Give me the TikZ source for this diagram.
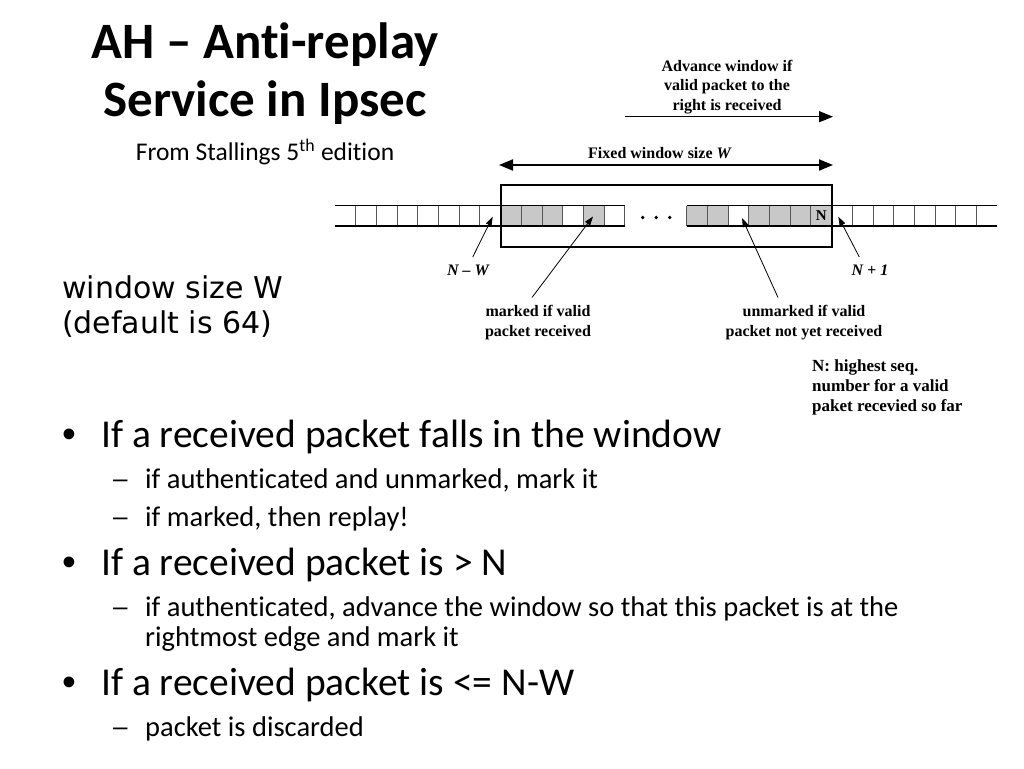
\documentclass[tikz,border=0pt]{standalone}
\usepackage{fontspec}
\setmainfont[Ligatures={NoCommon}]{Carlito}
\newfontfamily\tms{Liberation Serif}
\newfontfamily\dvs{DejaVu Sans}
\newfontfamily\ars{Liberation Sans}
\usetikzlibrary{arrows.meta}
\definecolor{cellgray}{HTML}{C8C8C8}
\definecolor{celledge}{HTML}{555555}
\begin{document}
\begin{tikzpicture}[x=1pt,y=-1pt,
  ttl/.style={font=\fontsize{51}{55}\selectfont\bfseries, anchor=base, inner sep=0pt},
  subttl/.style={font=\fontsize{25.5}{30}\selectfont, anchor=base, inner sep=0pt},
  side/.style={font=\dvs\fontsize{30}{35}\selectfont, anchor=base west, inner sep=0pt},
  lvla/.style={font=\fontsize{39.5}{44}\selectfont, anchor=base west, inner sep=0pt},
  bul/.style={font=\ars\fontsize{39.5}{44}\selectfont, anchor=base west, inner sep=0pt},
  dsh/.style={font=\ars\fontsize{26}{30}\selectfont, anchor=base west, inner sep=0pt},
  lvlb/.style={font=\fontsize{28.5}{32}\selectfont, anchor=base west, inner sep=0pt},
  dg/.style={font=\tms\bfseries\fontsize{16}{19}\selectfont, anchor=base, inner sep=0pt},
  note/.style={font=\tms\bfseries\fontsize{17}{20}\selectfont, anchor=base west, inner sep=0pt},
  bigarrow/.style={line width=2pt, -{Triangle[length=14pt,width=11pt]}},
  bigdarrow/.style={line width=2pt, {Triangle[length=14pt,width=11pt]}-{Triangle[length=14pt,width=11pt]}},
  thinarrow/.style={line width=0.8pt, -{Triangle[length=9pt,width=6pt]}},
  celldiv/.style={draw=celledge, line width=1pt},
  stripline/.style={draw=black, line width=1.3pt},
  winbox/.style={draw=black, line width=2pt}
]
\fill[white] (0,0) rectangle (1024,768);
\useasboundingbox (0,0) rectangle (1024,768);

% ---- title ----
\node[ttl] (t1) at (265,59) {AH – Anti-replay};
\node[ttl] (t2) at (265,116.5) {Service in Ipsec};
\node[subttl] (t3) at (265,160.5) {From Stallings 5\textsuperscript{th} edition};

% ---- side text ----
\node[side] (w1) at (62,298) {window size W};
\node[side] (w2) at (62,333.5) {(default is 64)};

% ---- bullets ----
\node[bul] (b1d) at (62,447) {•};
\node[lvla] (b1) at (101,447) {If a received packet falls in the window};
\node[dsh] (s1d) at (113,487) {–};
\node[lvlb] (s1) at (145,488) {if authenticated and unmarked, mark it};
\node[dsh] (s2d) at (113,525) {–};
\node[lvlb] (s2) at (145,526) {if marked, then replay!};
\node[bul] (b2d) at (62,575) {•};
\node[lvla] (b2) at (101,575) {If a received packet is > N};
\node[dsh] (s3d) at (113,615) {–};
\node[lvlb] (s3) at (145,616) {if authenticated, advance the window so that this packet is at the};
\node[lvlb] (s3b) at (145,646) {rightmost edge and mark it};
\node[bul] (b3d) at (62,695) {•};
\node[lvla] (b3) at (101,695) {If a received packet is <= N-W};
\node[dsh] (s4d) at (113,735) {–};
\node[lvlb] (s4) at (145,736) {packet is discarded};

% ---- strip of cells ----
\foreach \i in {0,1,2,4} \fill[cellgray] ({500.6+\i*20.7},205.7) rectangle ++(20.7,20.3);
\foreach \i in {0,1,3,4,5,6} \fill[cellgray] ({686.7+\i*20.7},205.7) rectangle ++(20.7,20.3);
\foreach \i in {1,...,14} \draw[celldiv] ({335+\i*20.7},205.7) -- ++(0,20.3);
\foreach \i in {0,...,14} \draw[celldiv] ({686.7+\i*20.7},205.7) -- ++(0,20.3);
\draw[stripline] (335,205.7) -- (624.8,205.7);
\draw[stripline] (335,226) -- (624.8,226);
\draw[stripline] (686.7,205.7) -- (997,205.7);
\draw[stripline] (686.7,226) -- (997,226);
\node[font=\tms\bfseries\fontsize{15}{17}\selectfont, inner sep=0pt] (ncell) at (821.3,216) {N};
\foreach \x in {642.7,656.2,669.7} \fill (\x,217.5) circle (1.9pt);

% window box
\draw[winbox] (501,185) rectangle (832,246.7);

% ---- top arrows and labels ----
\node[dg] (a1) at (727,71.7) {Advance window if};
\node[dg] (a2) at (727,90.7) {valid packet to the};
\node[dg] (a3) at (727,110) {right is received};
\coordinate (advL) at (625,116.7);
\coordinate (advR) at (833,116.7);
\draw[bigarrow, line width=1.5pt] (advL) -- (advR);

\node[dg] (fw) at (660,158.3) {Fixed window size \textit{W}};
\coordinate (fwL) at (499,165);
\coordinate (fwR) at (833,165);
\draw[bigdarrow] (fwL) -- (fwR);

% ---- bottom labels and pointers ----
\node[dg, font=\tms\bfseries\itshape\fontsize{16}{19}\selectfont] (nw) at (468,275) {N – W};
\node[dg, font=\tms\bfseries\itshape\fontsize{16}{19}\selectfont] (np) at (870,275) {N + 1};
\node[dg] (m1) at (538,316.7) {marked if valid};
\node[dg] (m2) at (538,336) {packet received};
\node[dg] (u1) at (804,316.7) {unmarked if valid};
\node[dg] (u2) at (804,336) {packet not yet received};
\node[note] (n1) at (812,371.7) {N: highest seq.};
\node[note] (n2) at (812,391.7) {number for a valid};
\node[note] (n3) at (812,411.7) {paket recevied so far};

\coordinate (hNW) at (492.7,216.7);
\coordinate (tNW) at (472.7,257);
\coordinate (hM) at (593,216.5);
\coordinate (tM) at (532,297.5);
\coordinate (hU) at (742,218);
\coordinate (tU) at (778,297.5);
\coordinate (hNP) at (838.3,216.7);
\coordinate (tNP) at (859.3,257);
\draw[thinarrow] (tNW) -- (hNW);
\draw[thinarrow] (tM) -- (hM);
\draw[thinarrow] (tU) -- (hU);
\draw[thinarrow] (tNP) -- (hNP);
\end{tikzpicture}
\end{document}
